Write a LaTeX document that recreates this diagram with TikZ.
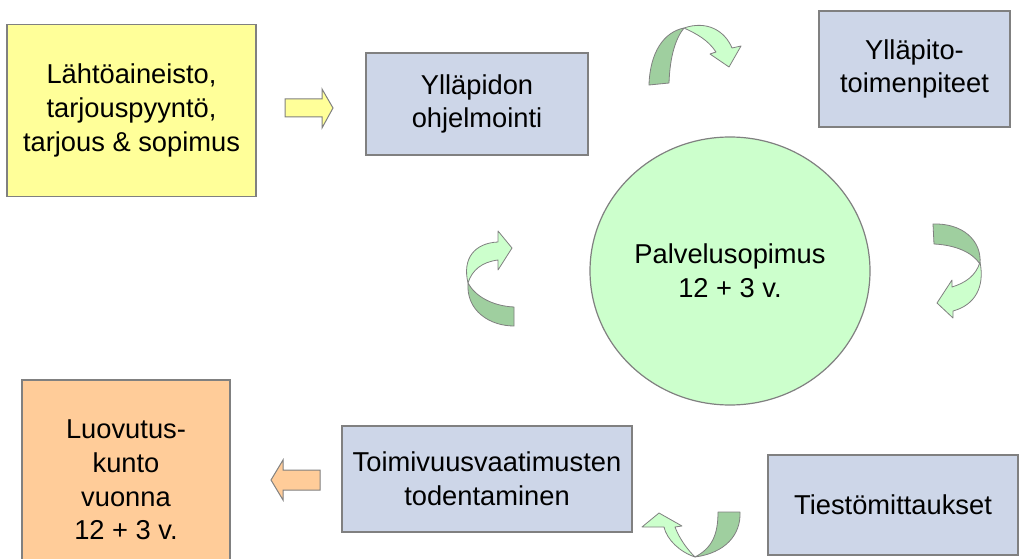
\documentclass[tikz,border=0pt]{standalone}
\usepackage{fontspec}
\setmainfont{Liberation Sans}
\usetikzlibrary{shapes.geometric}
\definecolor{yellowfill}{HTML}{FFFF99}
\definecolor{bluefill}{RGB}{205,214,232}
\definecolor{orangefill}{HTML}{FFCC99}
\definecolor{circfill}{HTML}{CCFFCC}
\definecolor{darkgreen}{HTML}{9FCF9F}
\definecolor{edgegrey}{HTML}{808080}
\newcommand\dgfont{\fontsize{27.3}{33.6}\selectfont}
\begin{document}
\begin{tikzpicture}[x=1pt,y=-1pt,
  box/.style={draw=edgegrey, line width=1.2pt, inner sep=0pt, align=center, font=\dgfont},
  bluebox/.style={box, fill=bluefill},
  curvlight/.style={fill=circfill, draw=edgegrey, line width=0.8pt, line join=round},
  curvdark/.style={fill=darkgreen, draw=edgegrey, line width=0.8pt, line join=round},
  blockarrow/.style={draw=edgegrey, line width=1pt, line join=miter}]
\clip (0,0) rectangle (1021,559);
\fill[white] (0,0) rectangle (1021,559);

% boxes
\node[box, fill=yellowfill, minimum width=249pt, minimum height=172pt] (src) at (131.5,110.5)
  {Lähtöaineisto,\\tarjouspyyntö,\\tarjous \& sopimus};
\node[bluebox, minimum width=222pt, minimum height=102pt] (prog) at (477,104) {Ylläpidon\\ohjelmointi};
\node[bluebox, minimum width=191pt, minimum height=116pt] (maint) at (914.5,69) {Ylläpito-\\toimenpiteet};
\node[ellipse, draw=edgegrey, line width=1.2pt, fill=circfill, inner sep=0pt, align=center, font=\dgfont,
  minimum width=280pt, minimum height=268pt] (contract) at (730,271) {Palvelusopimus\\12 + 3 v.};
\node[bluebox, minimum width=290pt, minimum height=106pt] (verify) at (487,479) {Toimivuusvaatimusten\\todentaminen};
\node[bluebox, minimum width=250pt, minimum height=100pt] (meas) at (893,505) {Tiestömittaukset};
\node[box, fill=orangefill, minimum width=208pt, minimum height=200pt] (handover) at (126,480)
  {Luovutus-\\kunto\\vuonna\\12 + 3 v.};

% straight block arrows
\draw[blockarrow, fill=yellowfill] (285,99) -- (322,99) -- (322,89) -- (333,108) -- (322,128) -- (322,117) -- (285,117) -- cycle;
\draw[blockarrow, fill=orangefill] (320,470) -- (283,470) -- (283,460) -- (271,480) -- (283,500) -- (283,490) -- (320,490) -- cycle;

% curved arrow 1 (top)
\draw[curvdark] (649,85) .. controls (650,52) and (664,32) .. (684,28) .. controls (676,38) and (670,55) .. (669,83) -- cycle;
\draw[curvlight] (684,28) .. controls (707,20) and (725,31) .. (732,48) -- (741,46) -- (729,67) -- (710,54) -- (716,52) .. controls (708,40) and (697,34) .. (684,28) -- cycle;

% curved arrow 2 (right)
\draw[curvdark] (933,224) .. controls (962,223) and (982,240) .. (980,264) .. controls (972,252) and (955,245) .. (934,244) -- cycle;
\draw[curvlight] (980,262) .. controls (985,287) and (975,305) .. (953,311) -- (953,318) -- (937,303) -- (952,280) -- (952,287) .. controls (965,283) and (976,276) .. (980,262) -- cycle;

% curved arrow 3 (left)
\draw[curvdark] (468,283) .. controls (466,311) and (490,326) .. (514,326) -- (514,307) .. controls (492,306) and (475,296) .. (468,283) -- cycle;
\draw[curvlight] (468,283) .. controls (462,258) and (475,243) .. (498,242) -- (498,231) -- (512,248) -- (498,270) -- (498,260) .. controls (482,262) and (472,270) .. (468,283) -- cycle;

% curved arrow 4 (bottom)
\draw[curvdark] (718,512) -- (740,512) .. controls (741,535) and (725,553) .. (695,557) .. controls (712,548) and (718,535) .. (718,512) -- cycle;
\draw[curvlight] (695,557) .. controls (680,552) and (667,540) .. (664,527) -- (642,527) -- (659,513) -- (682,526) -- (675,527) .. controls (680,540) and (688,550) .. (695,557) -- cycle;
\end{tikzpicture}
\end{document}
